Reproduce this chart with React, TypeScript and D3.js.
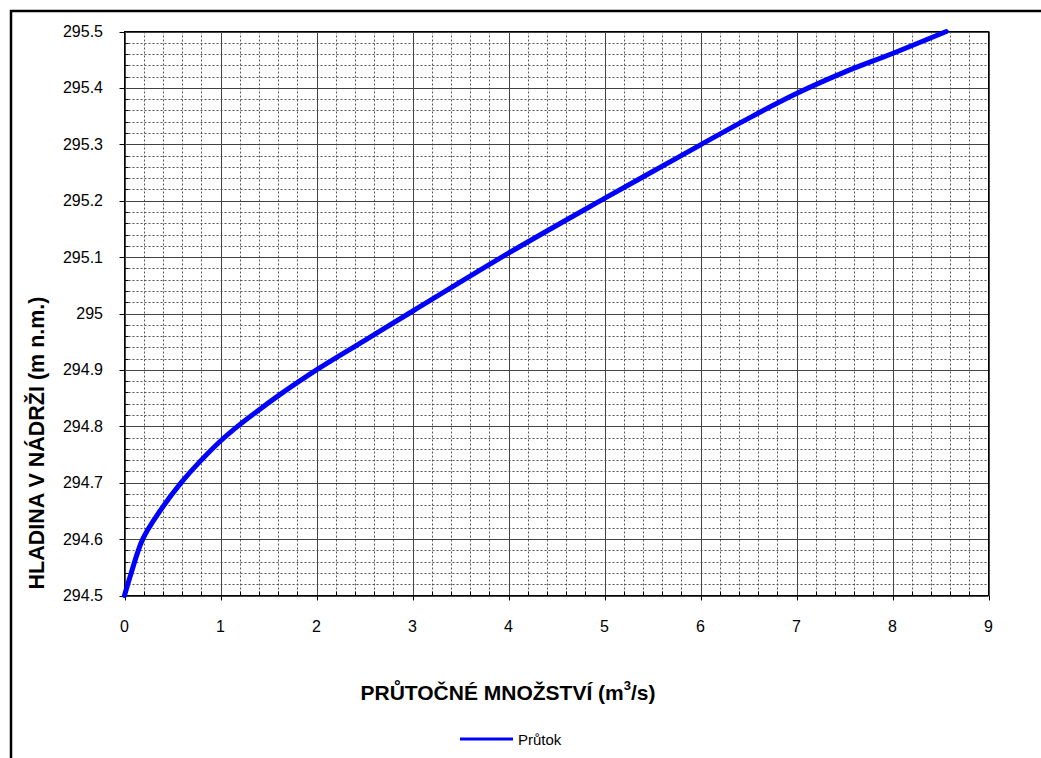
import React from "react";
import * as d3 from "d3";

const flows = [0, 0.07, 0.19, 0.37, 0.59, 0.8, 1.0, 1.2, 1.4, 1.6, 2.0, 2.5, 3.0, 4.0, 5.0, 6.0, 6.5, 7.0, 7.5, 8.0, 8.56];
const levels = [294.5, 294.54, 294.6, 294.65, 294.7, 294.74, 294.774, 294.803, 294.829, 294.854, 294.9, 294.952, 295.004, 295.107, 295.204, 295.299, 295.346, 295.39, 295.428, 295.461, 295.5];
const xTicks = [0, 1, 2, 3, 4, 5, 6, 7, 8, 9];
const yTicks = [294.5, 294.6, 294.7, 294.8, 294.9, 295, 295.1, 295.2, 295.3, 295.4, 295.5];
const seriesName = "Průtok";
const xTitle = "PRŮTOČNÉ MNOŽSTVÍ (m";
const yTitle = "HLADINA V NÁDRŽI (m n.m.)";

const W = 1041, H = 758;
const L = 124.5, R = 988.5, T = 31.5, B = 595.5;

export default function App() {
  const x = d3.scaleLinear().domain([0, 9]).range([L, R]);
  const y = d3.scaleLinear().domain([294.5, 295.5]).range([B, T]);
  const xMinor = d3.range(0, 9.0001, 0.2).map(v => +v.toFixed(2)).filter(v => Math.abs(v - Math.round(v)) > 1e-6);
  const yMinor = d3.range(294.5, 295.5001, 0.02).map(v => +v.toFixed(3)).filter(v => Math.abs(v * 10 - Math.round(v * 10)) > 1e-6);
  const pts = flows.map((f, i) => [f, levels[i]] as [number, number]);
  const line = d3.line<[number, number]>().x(d => x(d[0])).y(d => y(d[1])).curve(d3.curveCatmullRom.alpha(0.5));
  const font = "Arial, 'Liberation Sans', sans-serif";
  return (
    <svg width={W} height={H} style={{ position: "absolute", left: 0, top: 0, background: "#fff" }} fontFamily={font}>
      <rect x={0} y={0} width={W} height={H} fill="#fff" />
      <rect x={11} y={11} width={1200} height={1000} fill="none" stroke="#000" strokeWidth={2.5} />
      {xMinor.map(v => (
        <line key={"xm" + v} x1={Math.round(x(v)) + 0.5} x2={Math.round(x(v)) + 0.5} y1={T} y2={B} stroke="#555" strokeWidth={1} strokeDasharray="2,2" />
      ))}
      {yMinor.map(v => (
        <line key={"ym" + v} x1={L} x2={R} y1={Math.round(y(v)) + 0.5} y2={Math.round(y(v)) + 0.5} stroke="#555" strokeWidth={1} strokeDasharray="2,2" />
      ))}
      {xTicks.map(v => (
        <line key={"xg" + v} x1={Math.round(x(v)) + 0.5} x2={Math.round(x(v)) + 0.5} y1={T} y2={B} stroke="#444" strokeWidth={1} />
      ))}
      {yTicks.map(v => (
        <line key={"yg" + v} x1={L} x2={R} y1={Math.round(y(v)) + 0.5} y2={Math.round(y(v)) + 0.5} stroke="#444" strokeWidth={1} />
      ))}
      <rect x={L} y={T} width={R - L} height={B - T} fill="none" stroke="#000" strokeWidth={1} />
      {xMinor.map(v => (
        <line key={"xmt" + v} x1={Math.round(x(v)) + 0.5} x2={Math.round(x(v)) + 0.5} y1={B} y2={B - 4} stroke="#000" />
      ))}
      {yMinor.map(v => (
        <line key={"ymt" + v} x1={L} x2={L + 4} y1={Math.round(y(v)) + 0.5} y2={Math.round(y(v)) + 0.5} stroke="#000" />
      ))}
      {xTicks.map(v => (
        <g key={"xt" + v}>
          <line x1={Math.round(x(v)) + 0.5} x2={Math.round(x(v)) + 0.5} y1={B} y2={B + 5} stroke="#000" />
          <text x={x(v)} y={626} textAnchor="middle" dominantBaseline="central" fontSize={16}>{v}</text>
        </g>
      ))}
      {yTicks.map(v => (
        <g key={"yt" + v}>
          <line x1={L - 5} x2={L} y1={Math.round(y(v)) + 0.5} y2={Math.round(y(v)) + 0.5} stroke="#000" />
          <text x={103} y={y(v)} textAnchor="end" dominantBaseline="central" fontSize={16}>{String(v)}</text>
        </g>
      ))}
      <path d={line(pts) || ""} fill="none" stroke="#0000ff" strokeWidth={5} strokeLinejoin="round" strokeLinecap="round" />
      <text x={508} y={692} textAnchor="middle" dominantBaseline="central" fontSize={21} fontWeight="bold">
        {xTitle}<tspan dy={-7} fontSize={13}>3</tspan><tspan dy={7}>/s)</tspan>
      </text>
      <text transform={`translate(37,443) rotate(-90)`} textAnchor="middle" dominantBaseline="central" fontSize={21.5} fontWeight="bold">{yTitle}</text>
      <line x1={460} x2={513} y1={739} y2={739} stroke="#0000ff" strokeWidth={3} />
      <text x={518} y={739} dominantBaseline="central" fontSize={15}>{seriesName}</text>
    </svg>
  );
}
